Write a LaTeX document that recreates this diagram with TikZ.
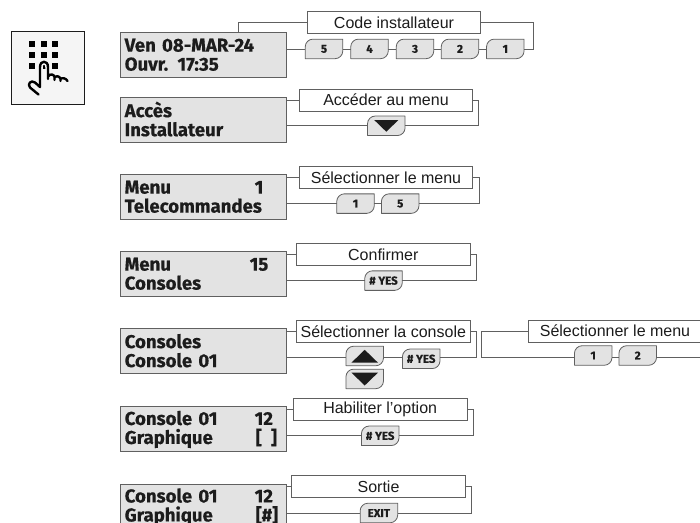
\documentclass[tikz,border=0pt]{standalone}
\usepackage{fontspec}
\setmainfont{Liberation Sans}
\newfontfamily\lcdfont[BoldFeatures={FakeBold=0.5}]{Fira Sans}
\usetikzlibrary{calc,positioning}
\definecolor{lcdfill}{RGB}{227,227,227}
\definecolor{wireline}{RGB}{96,96,96}
\definecolor{inkdark}{RGB}{28,28,28}
\definecolor{iconfill}{RGB}{245,245,245}

% key: body first, then the invisible node that carries the text
\newcommand{\keycap}[3]{%
  \draw[keyedge] (#2) ++(-18.75,9.75) -- ++(0,-12)
    .. controls +(0,-4) and +(-4,0) .. ++(7.5,-7.5) -- ++(30,0) -- ++(0,12)
    .. controls +(0,4) and +(4,0) .. ++(-7.5,7.5) -- cycle;
  \node[keytext] (#1) at (#2) {#3};}
\newcommand{\upmark}[1]{\fill[inkdark] (#1.center) ++(-13.3,6.7) -- ++(26.6,0) -- ++(-13.3,-12.9) -- cycle;}
\newcommand{\downmark}[2][1]{\fill[inkdark, shift={(#2.center)}, scale=#1] (-13.3,-6.3) -- ++(26.6,0) -- ++(-13.3,12.9) -- cycle;}
\newcommand{\lcdtab}[2]{\makebox[#1pt][l]{#2}}

\begin{document}
\begin{tikzpicture}[
      x=1pt, y=-1pt,
      lcd/.style={rectangle, draw=wireline, fill=lcdfill, minimum width=166pt, minimum height=45pt, text width=157.6pt, inner xsep=4.2pt, inner ysep=0pt, align=left, text=inkdark, font=\fontsize{18.6}{19}\selectfont\lcdfont\bfseries, line width=0.8pt, execute at begin node={\rule{0pt}{15pt}}, execute at end node={\rule[-1.8pt]{0pt}{1.8pt}}},
      tag/.style={rectangle, draw=wireline, fill=white, minimum width=173.4pt, minimum height=22pt, inner sep=0pt, text=inkdark, font=\fontsize{16}{18}\selectfont, line width=0.8pt},
      keyedge/.style={draw=wireline, fill=lcdfill, line width=0.8pt, line join=round},
      keytext/.style={rectangle, minimum width=37.5pt, minimum height=19.5pt, inner sep=0pt, text=inkdark, font=\fontsize{11.5}{12}\selectfont\lcdfont\bfseries},
      wire/.style={draw=wireline, line width=0.8pt}
    ]
      \useasboundingbox (0,0) rectangle (700,522);
      \clip (0,0) rectangle (700,522);

      % icon
      \draw[draw=inkdark, fill=iconfill, line width=0.9pt] (11.3,31.7) rectangle (84.7,104.7);
      \foreach \gx in {29.3,40.8,52.3} \foreach \gy in {40.7,52,62.7}
        \fill[black] (\gx,\gy) rectangle ++(6,6);
      \draw[iconfill, line width=5.5pt, line join=round, line cap=round] (40,86) -- (40,67) .. controls (40,60) and (48,60) .. (48,67) -- (48,78);
      \draw[black, line width=2.4pt, line join=round, line cap=round] (38.5,94.5) -- (30,87.5) .. controls (27,84) and (31,79.5) .. (35,82.5) -- (40,87) -- (40,67) .. controls (40,60) and (48,60) .. (48,67) -- (48,79) -- (48,76.5) .. controls (50,73.5) and (54,74) .. (54.5,77) -- (54.5,80) -- (54.5,77.5) .. controls (56,75.5) and (60,76) .. (60.5,79) -- (60.5,81) -- (60.5,79) .. controls (62,77.5) and (66,78) .. (67.5,81);

      % displays
      \node[lcd] (lcd1) at (203.5,54.5) {Ven 08-MAR-24\\Ouvr. 17:35};
      \node[lcd] (lcd2) at (203.5,119.8) {Acc\`es\\Installateur};
      \node[lcd] (lcd3) at (203.5,196.5) {\lcdtab{130}{Menu}1\\Telecommandes};
      \node[lcd] (lcd4) at (203.5,273.5) {\lcdtab{125}{Menu}15\\Consoles};
      \node[lcd] (lcd5) at (203.5,351) {Consoles\\Console 01};
      \node[lcd] (lcd6) at (203.5,429) {\lcdtab{130}{Console 01}12\\\lcdtab{131}{Graphique}[\,\,\,]};
      \node[lcd] (lcd7) at (203.5,506.5) {\lcdtab{130}{Console 01}12\\\lcdtab{131}{Graphique}[\#]};

      % captions
      \node[tag] (tag1) at (394,22.3) {Code installateur};
      \node[tag] (tag2) at (386,100) {Acc\'eder au menu};
      \node[tag] (tag3) at (386,177.7) {S\'electionner le menu};
      \node[tag] (tag4) at (383.3,254.3) {Confirmer};
      \node[tag] (tag5) at (383.3,331.3) {S\'electionner la console};
      \node[tag] (tag5b) at (615,331) {S\'electionner le menu};
      \node[tag] (tag6) at (380.2,409.3) {Habiliter l'option};
      \node[tag] (tag7) at (378.5,486.7) {Sortie};

      % keys
      \keycap{k1a}{324,48.9}{5}
      \keycap{k1b}{369.5,48.9}{4}
      \keycap{k1c}{415,48.9}{3}
      \keycap{k1d}{460,48.9}{2}
      \keycap{k1e}{505.3,48.9}{1}
      \keycap{k2}{386.3,125.8}{}
      \downmark[0.9]{k2}
      \keycap{k3a}{355.5,203.6}{1}
      \keycap{k3b}{400.2,203.6}{5}
      \keycap{k4}{383.5,280.6}{\# YES}
      \keycap{k5up}{364.7,356}{}
      \upmark{k5up}
      \keycap{k5dn}{364.7,378.9}{}
      \downmark{k5dn}
      \keycap{k5yes}{421.2,358.8}{\# YES}
      \keycap{k5a}{593.2,355.5}{1}
      \keycap{k5b}{637.7,355.5}{2}
      \keycap{k6}{380.2,435.8}{\# YES}
      \keycap{k7}{378.9,513}{EXIT}

      \coordinate (drop1) at (238.5,32.4);
      \coordinate (bus5) at (400,357.3);
      \coordinate (edge5) at (700,357.3);

      % connectors
      \draw[wire] (tag1.west) -| (drop1);
      \draw[wire] (k1a.west -| lcd1.east) -- (k1a.west);
      \draw[wire] (k1a.east) -- (k1b.west);
      \draw[wire] (k1b.east) -- (k1c.west);
      \draw[wire] (k1c.east) -- (k1d.west);
      \draw[wire] (k1d.east) -- (k1e.west);
      \draw[wire] (k1e.east) -| ($(tag1.east)+(52.3,0)$) -- (tag1.east);

      \draw[wire] (tag2.west) -- (tag2.west -| lcd2.east);
      \draw[wire] (k2.west -| lcd2.east) -- (k2.west);
      \draw[wire] (k2.east) -| ($(tag2.east)+(5.6,0)$) -- (tag2.east);

      \draw[wire] (tag3.west) -- (tag3.west -| lcd3.east);
      \draw[wire] (k3a.west -| lcd3.east) -- (k3a.west);
      \draw[wire] (k3a.east) -- (k3b.west);
      \draw[wire] (k3b.east) -| ($(tag3.east)+(6,0)$) -- (tag3.east);

      \draw[wire] (tag4.west) -- (tag4.west -| lcd4.east);
      \draw[wire] (k4.west -| lcd4.east) -- (k4.west);
      \draw[wire] (k4.east) -| ($(tag4.east)+(5.7,0)$) -- (tag4.east);

      \draw[wire] (tag5.west) -- (tag5.west -| lcd5.east);
      \draw[wire] (k5up.west |- bus5) -- (bus5 -| lcd5.east);
      \draw[wire] (k5up.east |- bus5) -- (k5yes.west |- bus5);
      \draw[wire] (k5yes.east |- bus5) -| ($(tag5.east)+(5.7,0)$) -- (tag5.east);
      \draw[wire] (tag5b.west) -- ($(tag5b.west)+(-47,0)$) |- (k5a.west |- bus5);
      \draw[wire] (k5a.east |- bus5) -- (k5b.west |- bus5);
      \draw[wire] (k5b.east |- bus5) -- (edge5);

      \draw[wire] (tag6.west) -- (tag6.west -| lcd6.east);
      \draw[wire] (k6.west -| lcd6.east) -- (k6.west);
      \draw[wire] (k6.east) -| ($(tag6.east)+(5.8,0)$) -- (tag6.east);

      \draw[wire] (tag7.west) -- (tag7.west -| lcd7.east);
      \draw[wire] (k7.west -| lcd7.east) -- (k7.west);
      \draw[wire] (k7.east) -| ($(tag7.east)+(6,0)$) -- (tag7.east);
    \end{tikzpicture}
\end{document}
